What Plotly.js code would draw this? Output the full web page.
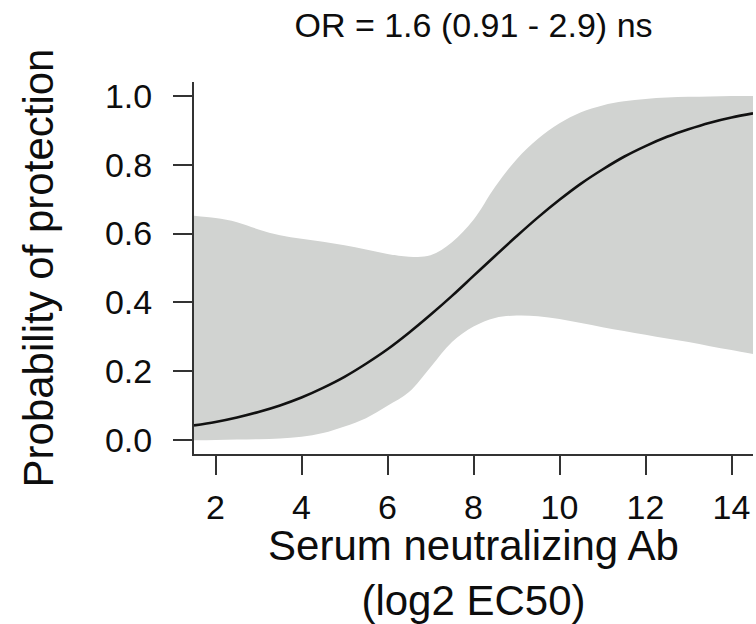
<!DOCTYPE html>
<html>
<head>
<meta charset="utf-8">
<script src="https://cdn.plot.ly/plotly-3.0.1.min.js"></script>
<style>html,body{margin:0;padding:0;background:#fff;}#chart{width:756px;height:624px;}</style>
</head>
<body>
<div id="chart"></div>
<script>
// Serum neutralizing Ab (log2 EC50)
const xValues = [1.5, 2, 2.5, 3, 3.5, 4, 4.5, 5, 5.5, 6, 6.5, 7, 7.5, 8, 8.5, 9, 9.5, 10, 10.5, 11, 11.5, 12, 12.5, 13, 13.5, 14, 14.5];
// Fitted probability of protection
const fitProb = [0.043, 0.053, 0.066, 0.082, 0.101, 0.124, 0.152, 0.184, 0.222, 0.264, 0.312, 0.364, 0.419, 0.477, 0.535, 0.592, 0.647, 0.698, 0.745, 0.786, 0.823, 0.854, 0.881, 0.903, 0.922, 0.937, 0.949];
// Confidence band
const upperCI = [0.652, 0.645, 0.633, 0.612, 0.595, 0.585, 0.576, 0.566, 0.554, 0.541, 0.533, 0.537, 0.575, 0.64, 0.735, 0.815, 0.875, 0.92, 0.952, 0.972, 0.984, 0.991, 0.995, 0.997, 0.998, 0.999, 0.999];
const lowerCI = [0.0, 0.001, 0.002, 0.003, 0.005, 0.01, 0.021, 0.04, 0.064, 0.1, 0.14, 0.212, 0.285, 0.33, 0.355, 0.362, 0.36, 0.352, 0.34, 0.328, 0.317, 0.306, 0.295, 0.285, 0.273, 0.262, 0.25];
const xTicks = [2, 4, 6, 8, 10, 12, 14];
const yTicks = [0, 0.2, 0.4, 0.6, 0.8, 1.0];
const yTickText = ['0.0', '0.2', '0.4', '0.6', '0.8', '1.0'];

const FONT = 'Liberation Sans, Arial, sans-serif';
const INK = '#0d0d0d';
const traces = [
  {x: xValues, y: lowerCI, type: 'scatter', mode: 'lines', line: {width: 0, shape: 'spline', color: 'rgba(0,0,0,0)'}, hoverinfo: 'skip', showlegend: false},
  {x: xValues, y: upperCI, type: 'scatter', mode: 'lines', fill: 'tonexty', fillcolor: '#d1d3d1', line: {width: 0, shape: 'spline', color: 'rgba(0,0,0,0)'}, hoverinfo: 'skip', showlegend: false},
  {x: xValues, y: fitProb, type: 'scatter', mode: 'lines', line: {color: '#111111', width: 2.6, shape: 'spline'}, showlegend: false}
];
const layout = {
  width: 756, height: 624,
  margin: {l: 194, r: 3, t: 82, b: 170},
  paper_bgcolor: '#ffffff', plot_bgcolor: '#ffffff',
  font: {family: FONT, color: INK},
  title: {text: 'OR = 1.6 (0.91 - 2.9) ns', font: {size: 34, family: FONT, color: INK}, x: 0.5, xref: 'paper', y: 0.96, yref: 'container', yanchor: 'middle'},
  xaxis: {
    range: [1.5, 14.5], showgrid: false, zeroline: false,
    showline: true, linecolor: '#333333', linewidth: 2, mirror: false,
    tickmode: 'array', tickvals: xTicks, ticktext: xTicks.map(String),
    ticks: 'outside', ticklen: 19, tickwidth: 2, tickcolor: '#333333',
    ticklabelstandoff: 3,
    tickfont: {size: 34, family: FONT, color: INK},
    title: {text: 'Serum neutralizing Ab<br>(log2 EC50)', font: {size: 42, family: FONT, color: INK}, standoff: 7}
  },
  yaxis: {
    range: [-0.04, 1.04], showgrid: false, zeroline: false,
    showline: true, linecolor: '#333333', linewidth: 2,
    tickmode: 'array', tickvals: yTicks, ticktext: yTickText,
    ticks: 'outside', ticklen: 19, tickwidth: 2, tickcolor: '#333333',
    ticklabelstandoff: 14,
    tickfont: {size: 34, family: FONT, color: INK},
    title: {text: 'Probability of protection', font: {size: 42, family: FONT, color: INK}, standoff: 38}
  }
};
Plotly.newPlot('chart', traces, layout, {displayModeBar: false, staticPlot: true});
</script>
</body>
</html>
